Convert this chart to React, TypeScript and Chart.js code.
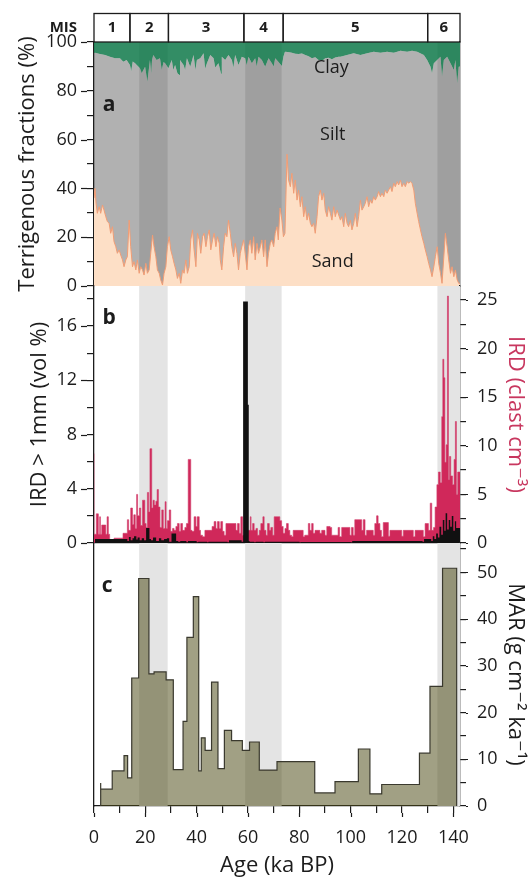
import { useEffect, useRef } from 'react';
import { Chart, registerables } from 'chart.js';

Chart.register(...registerables);

// ---------------- layout constants ----------------
const W = 531;
const H = 879;
const LEFT = 94;          // left edge of plot areas
const RIGHT = 460;        // right edge of plot areas
const A_TOP = 42;
const A_BOT = 286;
const B_BOT = 543;
const C_BOT = 806;
const FONT = "'Open Sans', 'DejaVu Sans', sans-serif";
const INK = '#1c1c1c';

// ---------------- data ----------------
const X_MAX = 142.6;

const misLabels = ['1', '2', '3', '4', '5', '6'];
const misBounds = [0, 14, 29, 58.4, 73.7, 130, 142.6];

const bandStarts = [17.6, 58.9, 133.8];
const bandEnds = [28.7, 73.1, 142.6];

// Panel a: sand (%) upper boundary [age, %]
const sandPct = [
  [0, 36], [0.4, 40], [0.8, 33.9], [1.3, 29.8], [2.0, 32.5], [2.6, 29.8], [3.3, 33.2], [3.9, 31.1], [4.6, 28.4],
  [5.2, 26.4], [5.9, 25.7], [6.5, 21.6], [7.2, 24.3], [7.8, 18.2], [8.5, 16.1], [9.1, 13.4], [9.8, 14.8],
  [10.4, 12.7], [11.1, 10.7], [11.7, 7.9], [12.4, 10.7], [13.0, 12.0], [13.7, 27.0], [14.3, 16.1], [15.0, 7.9],
  [15.6, 10.0], [16.3, 6.6], [16.9, 10.7], [17.6, 5.2], [18.2, 7.9], [18.9, 6.6], [19.5, 4.5], [20.2, 9.3],
  [20.8, 5.2], [21.5, 6.6], [22.1, 13.4], [22.8, 20.9], [23.4, 16.1], [24.1, 12.0], [24.7, 6.6], [25.4, 5.2],
  [26.0, 2.5], [26.7, 0.4], [27.3, 5.2], [28.0, 7.9], [28.6, 16.1], [29.3, 20.2], [29.9, 14.8], [30.6, 12.0],
  [31.2, 9.3], [31.9, 6.6], [32.5, 3.1], [33.2, 5.2], [33.8, 1.1], [34.5, 6.6], [35.1, 5.2], [35.8, 10.7],
  [36.4, 5.2], [37.1, 7.9], [37.7, 18.9], [38.4, 23.0], [39.0, 14.8], [39.7, 7.9], [40.3, 21.6], [41.0, 18.9],
  [41.6, 13.4], [42.3, 20.2], [42.9, 21.6], [43.6, 16.1], [44.2, 20.2], [44.9, 23.0], [45.5, 14.8], [46.2, 18.9],
  [46.8, 21.6], [47.5, 16.1], [48.1, 20.2], [48.8, 17.5],
  [49.2, 10.7], [49.8, 6.6], [50.5, 16.1], [51.1, 21.6], [51.8, 20.2], [52.4, 27], [53.1, 21.6], [53.7, 16.1],
  [54.4, 12], [55.0, 17.5], [55.7, 13.4], [56.3, 6.6], [57.0, 13.4], [57.6, 16.1], [58.3, 18.9], [58.9, 13.4],
  [59.6, 6.6], [60.2, 16.1], [60.9, 18.9], [61.5, 13.4], [62.2, 20.2], [62.8, 10.7], [63.5, 17.5], [64.1, 13.4],
  [64.8, 16.1], [65.4, 18.9], [66.1, 12], [66.7, 18.9], [67.4, 7.9], [68.0, 13.4], [68.7, 17.5], [69.3, 18.9],
  [70.0, 16.1], [70.6, 21.6], [71.3, 24.3], [71.8, 18.9], [72.5, 32], [73.2, 27], [73.8, 20.2], [74.4, 21.6],
  [75.2, 54], [75.8, 43.4], [76.5, 40.7], [77.1, 46.2], [77.8, 38], [78.4, 43.4], [79.1, 35.2], [79.7, 39.3],
  [80.4, 32.5], [81.0, 36.6], [81.7, 28.4], [82.3, 32.5], [83.0, 27], [83.6, 29.8], [84.3, 25.7], [84.9, 24.3],
  [85.6, 25.7], [86.2, 21.6], [86.9, 28.4], [87.5, 36.6], [88.2, 39.3], [88.8, 35.2], [89.5, 38], [90.1, 31.1],
  [90.8, 28.4], [91.4, 32.5], [92.1, 29.8], [92.7, 27], [93.4, 32.5], [94.0, 28.4], [94.7, 31.1],
  [96.0, 27], [96.6, 28.4], [97.3, 24.3], [97.9, 29.8], [98.6, 25.7], [99.2, 24.3], [99.9, 27], [100.5, 23],
  [101.2, 25.7], [101.8, 29.8], [102.5, 24.3], [103.1, 28.4], [103.8, 35.2], [104.4, 31.1], [105.1, 32.5],
  [105.7, 33.9], [106.4, 36.6], [107.0, 32.5], [107.7, 35.2], [108.3, 33.9], [109.0, 36.6], [109.6, 35.2],
  [110.3, 36.6], [110.9, 38.7], [111.6, 36.6], [112.2, 38], [112.9, 36.6], [113.5, 39.3], [114.2, 38],
  [114.8, 39.3], [115.5, 40.7], [116.1, 38.7], [116.8, 42.1], [117.4, 40.7], [118.1, 42.8], [118.7, 41.4],
  [119.4, 43.4], [120.0, 40.7], [120.7, 42.1], [121.3, 40.7], [122.0, 42.8], [122.6, 42.1], [123.3, 42.8],
  [123.9, 42.1], [124.6, 39.3], [125.2, 33.9], [125.9, 29.8], [126.5, 26.4], [127.2, 23], [127.8, 20.2],
  [128.5, 17.5], [129.1, 14.8], [129.8, 12], [130.4, 9.3], [131.1, 6.6], [131.7, 3.8], [132.4, 7.9], [133.0, 12],
  [133.7, 16.1], [134.3, 9.3], [135.0, 5.2], [135.6, 1.1], [136.3, 12], [136.9, 21.6], [137.6, 16.1],
  [138.2, 10.7], [138.9, 5.2], [139.5, 7.9], [140.2, 3.8], [140.8, 6.6], [141.5, 2.5], [142.1, 1.1], [142.6, 1.0],
];

// Panel a: top of silt (sand + silt, %) [age, %]
const siltTopPct = [
  [0, 95.5], [0.4, 95.6], [2.3, 95.1], [4.3, 94.7], [6.2, 94], [8.2, 93.3], [10.1, 93.3], [11.4, 91.9],
  [12.7, 92.6], [14.0, 90.6], [14.5, 88], [15.1, 92], [16.0, 91.3], [17.9, 89.2], [18.6, 87.2], [19.9, 89.9],
  [20.8, 83.7], [21.8, 92.6], [22.3, 87], [22.6, 92.5], [23.1, 94.7], [24.4, 92.6], [25.7, 93.3], [26.4, 88.5],
  [27.1, 91.8], [27.7, 91.3], [29.0, 89.2], [30.3, 92.6], [30.9, 88.5], [31.6, 90.6], [32.5, 87.2], [33.3, 86.5],
  [33.5, 92.6], [34.9, 90.6], [35.5, 88.5], [36.2, 93.3], [37.5, 89.9], [38.8, 94.7], [39.5, 88.5], [40.1, 92.6],
  [41.4, 93.3], [42.7, 95.4], [43.3, 89], [44.0, 91.3], [45.3, 94.7], [46.6, 93.3], [47.2, 89.5], [48.5, 91.3],
  [49.5, 87], [49.8, 94], [51.1, 92.6], [52.4, 94.7], [53.7, 92.6], [54.3, 89.5], [55.0, 94.7], [56.3, 90.6],
  [57.6, 94], [58.9, 93.3], [59.5, 90.5], [60.2, 94], [61.5, 91.3], [62.8, 93.3], [63.4, 90], [64.1, 94],
  [65.4, 92.6], [66.7, 89.9], [68.0, 93.3], [69.3, 91.3], [70.0, 90], [70.6, 93.3],
  [71.8, 91.9], [73.2, 90.2], [73.8, 94], [74.4, 96], [75.5, 95.9], [77.1, 95.6], [78.4, 95.2], [79.7, 95.1],
  [81.0, 95.3], [82.3, 94.7], [83.6, 94.2], [84.9, 93.3], [86.2, 93.8], [87.5, 92.6], [88.8, 92.2], [90.1, 93.3],
  [91.4, 93.5], [92.7, 92.9], [94.0, 93.6], [95.3, 94], [96.0, 94], [98.6, 94.7], [101.2, 95.4], [103.8, 94.7],
  [106.4, 95.4], [109.0, 96], [111.6, 95.6], [114.2, 96], [116.8, 95.6], [119.4, 96.4], [122.0, 96],
  [123.9, 96.4], [125.9, 96], [128.5, 94.7], [129.8, 92.6], [131.1, 89.9], [131.7, 87.2], [132.4, 91.3],
  [133.7, 92.6], [135.0, 94], [135.6, 85.8], [136.3, 92.6], [137.6, 94], [138.9, 91.3], [140.2, 88.5],
  [140.8, 92.6], [141.5, 83], [142.1, 89.9], [142.6, 90],
];

// Panel b: IRD (clast cm-3), step start [age, value]
const irdClast = [
  [0, 9.2], [0.9, 0.9], [1.7, 3.0], [2.2, 0.9], [2.5, 2.7], [3.0, 0.9], [4.6, 1.85], [5.1, 0.9], [5.6, 2.7],
  [6.1, 0.9], [7.8, 0], [11.3, 0.5], [13.0, 1.0], [13.5, 2.4], [14.3, 1.3], [15.0, 3.6], [15.5, 1.9], [16.1, 2.9],
  [16.6, 1.5], [17.0, 5.0], [17.7, 2.8], [18.2, 3.6], [18.9, 1.8], [19.8, 4.4], [20.3, 2.0], [20.8, 1.6],
  [21.3, 5.2], [21.8, 3.2], [22.5, 9.7], [23.0, 3.6], [23.5, 4.4], [24.1, 3.9], [24.6, 4.3], [25.1, 5.5],
  [25.7, 3.7], [26.4, 1.6], [27.0, 3.4], [27.7, 1.5], [28.1, 4.25], [28.6, 1.5], [29.3, 2.3], [29.9, 3.4],
  [30.6, 1.2], [31.2, 1.5], [31.9, 1.3], [32.5, 1.7], [33.2, 2.0], [33.8, 1.2], [34.5, 2.0], [35.4, 1.3],
  [36.0, 1.6], [36.7, 2.0], [37.7, 8.6], [38.2, 1.3], [39.0, 1.2], [39.7, 2.7], [40.2, 1.7], [41.0, 2.7],
  [41.5, 1.3], [42.3, 0.8], [43.2, 0.65], [46.0, 1.3], [46.8, 1.7], [47.5, 2.2], [48.1, 1.5], [48.8, 2.2],
  [49.4, 1.5], [50.1, 2.2], [50.7, 1.2], [51.4, 0.8], [55.3, 2.0], [55.9, 1.3], [56.6, 2.0], [57.2, 1.0],
  [57.9, 2.7], [58.9, 0.8], [60.9, 1.3], [61.2, 2.7], [61.8, 1.3], [62.4, 2.0], [63.1, 1.3], [63.7, 1.5],
  [64.4, 0.8], [65.0, 1.3], [65.8, 2.0], [66.3, 2.7], [67.0, 1.3], [67.6, 0.8], [68.3, 2.0], [68.9, 1.3],
  [69.6, 1.6], [70.2, 0.8], [72.4, 2.7], [73.1, 2.3], [73.7, 1.7], [74.4, 1.0], [75.0, 1.5], [75.7, 2.0],
  [76.3, 1.3], [77.0, 0.8], [77.6, 0.65], [81.5, 1.3], [82.1, 0.65], [83.5, 0.8], [84.1, 2.0], [84.8, 1.3],
  [85.4, 2.0], [86.1, 1.0], [88.0, 1.3], [88.7, 1.0], [90.0, 1.3], [90.7, 0.8], [92.0, 1.7], [92.6, 1.6],
  [95.1, 0.8], [95.7, 1.6], [96.5, 0.65], [99.7, 1.6], [100.3, 0.8], [101.0, 1.6], [101.6, 0.8], [104.3, 2.4],
  [104.9, 1.3], [105.6, 2.4], [106.2, 0.8], [108.8, 1.3], [109.4, 0.8], [110.1, 2.0], [110.7, 2.8], [111.4, 2.0],
  [112.0, 1.3], [112.7, 0.65], [114.7, 2.1], [115.3, 0.7], [119.9, 1.3], [120.5, 0.7], [124.4, 1.3],
  [125.1, 0.65], [128.3, 1.3], [129.0, 0.65], [130.3, 2.0], [131.0, 1.3], [131.6, 4.1], [132.3, 1.3],
  [132.9, 1.6], [133.6, 3.7], [134.2, 6.0], [134.9, 7.3], [135.5, 6.2], [135.9, 13.0], [136.3, 18.9],
  [136.7, 17.0], [137.2, 8.3], [137.7, 10.1], [138.1, 25.4], [138.5, 6.5], [139.0, 8.9], [139.7, 6.9],
  [140.3, 6.0], [140.8, 8.6], [141.2, 12.5], [141.7, 5.0], [142.2, 7.3], [142.6, 7.3],
];

// Panel b: IRD > 1 mm (vol %), step start [age, value]
const irdVol = [
  [0, 10.8], [0.4, 0], [13.0, 0.3], [13.6, 0.15], [14.3, 0.45], [15.0, 0.2], [15.6, 0.35], [16.5, 0.5],
  [17.0, 0.25], [17.8, 0.4], [18.6, 0.2], [19.5, 0.35], [20.3, 0.2], [21.6, 1.1], [22.2, 0.3], [23.0, 0.2],
  [24.2, 0.4], [25.3, 0.15], [26.2, 0.35], [27.3, 0.2], [28.4, 0.3], [29.3, 0.35], [30.2, 0.1], [32.0, 0.7],
  [32.8, 0.15], [33.6, 0.1], [36.0, 0.15], [36.6, 0.05], [40.0, 0.15], [40.6, 0.05], [44.0, 0.1], [44.6, 0.05],
  [52.0, 0.1], [52.6, 0.05], [57.5, 0.2], [58.1, 0.1], [59.95, 17.8], [60.3, 10.2], [60.6, 0.15], [62.4, 0.1],
  [63.0, 0.05], [66.0, 0.1], [66.6, 0.05], [80.0, 0.1], [80.6, 0.05], [100.0, 0.08], [100.6, 0.05],
  [128.0, 0.15], [128.6, 0.1], [131.4, 0.3], [132.0, 0.15], [132.6, 0.5], [133.3, 0.3], [134.0, 0.7],
  [134.6, 0.4], [135.3, 1.2], [135.9, 0.6], [136.5, 1.7], [137.0, 0.9], [137.6, 2.2], [138.2, 1.0],
  [138.8, 1.7], [139.4, 1.2], [140.0, 2.0], [140.6, 0.9], [141.1, 1.6], [141.6, 1.1], [142.6, 1.1],
];

// Panel c: MAR (g cm-2 ka-1), step starts and values
const marStarts = [2.6, 7.1, 11.7, 13.1, 14.7, 17.4, 21.4, 23.4, 28.1, 30.9, 34.7, 36.2, 38.7, 40.8, 41.8, 43.3,
  45.8, 48.3, 50.8, 53.6, 57.8, 60.6, 64.4, 71.3, 86.0, 93.9, 103.0, 107.5, 112.1, 126.8, 130.9, 135.8, 139.4];
const marValues = [4.9, 3.6, 7.5, 10.8, 6.0, 27.4, 48.7, 28.3, 28.7, 27.0, 7.8, 18.1, 36.1, 44.8, 7.5, 14.6,
  11.9, 26.5, 8.0, 16.2, 14.0, 11.9, 13.7, 7.7, 9.5, 2.8, 5.2, 12.2, 2.6, 4.6, 11.3, 25.6, 50.9];
const marEnd = 141.3;

// in-panel annotation labels: [text, age, value]
const panelALabels = [['Clay', 92.5, 89.5], ['Silt', 93, 62], ['Sand', 93, 10]];

// ---------------- helpers ----------------
const pts = (arr: number[][]) => arr.map(([x, y]) => ({ x, y }));
const marPts = () => {
  const out = [{ x: marStarts[0], y: 0 }];
  marStarts.forEach((s, i) => out.push({ x: s, y: marValues[i] }));
  out.push({ x: marEnd, y: marValues[marValues.length - 1] });
  out.push({ x: marEnd, y: 0 });
  return out;
};

const isMult = (v: number, n: number) => Math.abs(v / n - Math.round(v / n)) < 1e-6;
const every = (n: number) => (v: any) => (isMult(Number(v), n) ? String(Math.round(Number(v))) : '');

const tickFont = { family: FONT, size: 18 };
const titleFont = { family: FONT, size: 22 };

const baseOptions = (padTop: number, padBottom: number) => ({
  responsive: false,
  maintainAspectRatio: false,
  animation: false,
  devicePixelRatio: 1,
  events: [],
  layout: { padding: { left: 0, right: 0, top: padTop, bottom: padBottom }, autoPadding: false },
  plugins: { legend: { display: false }, tooltip: { enabled: false } },
  elements: { point: { radius: 0 }, line: { tension: 0 } },
});

const frameAxis = (position: string, min: number, max: number, width: number) => ({
  type: 'linear', position, min, max, z: 1,
  afterFit: (s: any) => { s.width = width; },
  border: { display: true, color: INK, width: 1.3 },
  grid: { display: false, drawTicks: false },
  ticks: { display: false },
});

const valueAxis = (o: any) => ({
  type: 'linear', position: o.position, min: 0, max: o.max, z: 1,
  afterFit: (s: any) => { s.width = o.width; },
  border: { display: true, color: INK, width: 1.3 },
  grid: { display: true, drawOnChartArea: false, drawTicks: true, tickLength: o.tickLength, color: INK, lineWidth: 1.2 },
  ticks: { stepSize: o.step, includeBounds: false, autoSkip: false, padding: o.padding, color: INK, font: tickFont, callback: every(o.labelStep) },
  title: { display: true, text: o.title, color: o.titleColor || INK, font: titleFont, padding: { top: o.titlePad, bottom: 0 } },
});

// lengthen the labelled (major) tick marks
const majorTicksPlugin = (specs: { id: string; every: number; extra: number }[]) => ({
  id: 'majorTicks',
  afterDraw(chart: any) {
    const { ctx } = chart;
    ctx.save();
    ctx.strokeStyle = INK;
    ctx.lineWidth = 1.2;
    specs.forEach(({ id, every: n, extra }) => {
      const s = chart.scales[id];
      const tl = s.options.grid.tickLength;
      s.ticks.forEach((t: any) => {
        if (!isMult(t.value, n)) return;
        const p = Math.round(s.getPixelForValue(t.value)) + 0.5;
        ctx.beginPath();
        if (s.position === 'left') { ctx.moveTo(s.right - tl, p); ctx.lineTo(s.right - tl - extra, p); }
        else if (s.position === 'right') { ctx.moveTo(s.left + tl, p); ctx.lineTo(s.left + tl + extra, p); }
        else { ctx.moveTo(p, s.top + tl); ctx.lineTo(p, s.top + tl + extra); }
        ctx.stroke();
      });
    });
    ctx.restore();
  },
});

const bandsPlugin = (color: string) => ({
  id: 'bands',
  beforeDatasetsDraw(chart: any) {
    const { ctx, chartArea, scales } = chart;
    const x = scales.x;
    ctx.save();
    ctx.fillStyle = color;
    bandStarts.forEach((s, i) => {
      const x0 = x.getPixelForValue(s);
      const x1 = x.getPixelForValue(bandEnds[i]);
      ctx.fillRect(x0, chartArea.top, x1 - x0, chartArea.bottom - chartArea.top);
    });
    ctx.restore();
  },
});

const letterPlugin = (letter: string, age: number, value: number, axisId: string) => ({
  id: 'letter' + letter,
  afterDraw(chart: any) {
    const { ctx, scales } = chart;
    ctx.save();
    ctx.fillStyle = INK;
    ctx.font = `bold 21px ${FONT}`;
    ctx.textAlign = 'center';
    ctx.textBaseline = 'middle';
    ctx.fillText(letter, scales.x.getPixelForValue(age), scales[axisId].getPixelForValue(value));
    ctx.restore();
  },
});

const panelAText = {
  id: 'panelAText',
  afterDraw(chart: any) {
    const { ctx, scales: { x, y } } = chart;
    ctx.save();
    ctx.fillStyle = INK;
    ctx.textAlign = 'center';
    ctx.textBaseline = 'middle';
    ctx.font = `18px ${FONT}`;
    panelALabels.forEach(([t, a, v]: any) => ctx.fillText(t, x.getPixelForValue(a), y.getPixelForValue(v)));
    // MIS header boxes
    ctx.strokeStyle = INK;
    ctx.lineWidth = 1.3;
    ctx.font = `bold 15px ${FONT}`;
    const top = 13.5;
    const bot = chart.chartArea.top;
    misLabels.forEach((lab, i) => {
      const x0 = x.getPixelForValue(misBounds[i]);
      const x1 = x.getPixelForValue(misBounds[i + 1]);
      ctx.strokeRect(x0, top, x1 - x0, bot - top);
      ctx.fillText(lab, (x0 + x1) / 2, (top + bot) / 2);
    });
    ctx.textAlign = 'right';
    ctx.fillText('MIS', LEFT - 17, (top + bot) / 2);
    ctx.restore();
  },
};

// ---------------- chart configs ----------------
const configA = (): any => ({
  type: 'line',
  data: {
    datasets: [
      { data: pts(sandPct), borderColor: '#F19C74', borderWidth: 1, backgroundColor: '#FDDFC6', fill: 'origin', yAxisID: 'y' },
      { data: pts(siltTopPct), borderWidth: 0, borderColor: 'rgba(0,0,0,0)', backgroundColor: 'rgba(60,60,60,0.4)', fill: 'origin', yAxisID: 'y' },
      { data: pts(siltTopPct), borderWidth: 0, borderColor: 'rgba(0,0,0,0)', backgroundColor: 'rgba(0,112,62,0.8)', fill: 'end', yAxisID: 'y' },
    ],
  },
  options: {
    ...baseOptions(A_TOP, H - A_BOT),
    scales: {
      x: { type: 'linear', min: 0, max: X_MAX, display: false },
      y: valueAxis({ position: 'left', max: 100, width: LEFT, tickLength: 7, step: 10, labelStep: 20, padding: 10,
        title: 'Terrigenous fractions (%)', titlePad: 15 }),
      yR: frameAxis('right', 0, 100, W - RIGHT),
    },
  },
  plugins: [bandsPlugin('#E2E2E2'), panelAText, letterPlugin('a', 5.9, 74, 'y'),
    majorTicksPlugin([{ id: 'y', every: 20, extra: 6 }])],
});

const configB = (): any => ({
  type: 'line',
  data: {
    datasets: [
      { data: pts(irdVol), stepped: 'after', borderWidth: 0, borderColor: 'rgba(0,0,0,0)', backgroundColor: '#111111', fill: 'origin', yAxisID: 'y' },
      { data: pts(irdClast), stepped: 'after', borderWidth: 0.6, borderColor: '#D2406C', backgroundColor: '#D0285A', fill: 'origin', yAxisID: 'yR' },
    ],
  },
  options: {
    ...baseOptions(A_BOT, H - B_BOT),
    scales: {
      x: {
        type: 'linear', position: 'bottom', min: 0, max: X_MAX, z: 1,
        afterFit: (s: any) => { s.height = 0; },
        border: { display: true, color: INK, width: 1.3 },
        grid: { display: false, drawTicks: false },
        ticks: { display: false },
      },
      y: valueAxis({ position: 'left', max: 18.95, width: LEFT, tickLength: 7, step: 2, labelStep: 4, padding: 10,
        title: 'IRD > 1mm (vol %)', titlePad: 27 }),
      yR: valueAxis({ position: 'right', max: 26.44, width: W - RIGHT, tickLength: 6, step: 2.5, labelStep: 5, padding: 11,
        title: 'IRD (clast cm⁻³)', titleColor: '#C8375F', titlePad: 3 }),
    },
  },
  plugins: [bandsPlugin('#E4E4E4'), letterPlugin('b', 5.9, 16.6, 'y'),
    majorTicksPlugin([{ id: 'y', every: 4, extra: 6 }, { id: 'yR', every: 5, extra: 2 }])],
});

const configC = (): any => ({
  type: 'line',
  data: {
    datasets: [
      { data: marPts(), stepped: 'after', borderWidth: 1.2, borderColor: '#3A392E', backgroundColor: 'rgba(75,72,20,0.52)', fill: 'origin', yAxisID: 'yR' },
    ],
  },
  options: {
    ...baseOptions(B_BOT, 0),
    scales: {
      x: {
        type: 'linear', position: 'bottom', min: 0, max: X_MAX, z: 1,
        afterFit: (s: any) => { s.height = H - C_BOT; },
        border: { display: true, color: INK, width: 1.3 },
        grid: { display: true, drawOnChartArea: false, drawTicks: true, tickLength: 7, color: INK, lineWidth: 1.2 },
        ticks: { stepSize: 10, includeBounds: false, autoSkip: false, maxRotation: 0, minRotation: 0, padding: 14,
          color: INK, font: tickFont, callback: every(20) },
        title: { display: true, text: 'Age (ka BP)', color: INK, font: titleFont, padding: { top: 0, bottom: 0 } },
      },
      yL: frameAxis('left', 0, 56.3, LEFT),
      yR: valueAxis({ position: 'right', max: 56.3, width: W - RIGHT, tickLength: 6, step: 5, labelStep: 10, padding: 11,
        title: 'MAR (g cm⁻² ka⁻¹)', titlePad: 3 }),
    },
  },
  plugins: [bandsPlugin('#E4E4E4'), letterPlugin('c', 5.1, 47, 'yR'),
    majorTicksPlugin([{ id: 'x', every: 20, extra: 4 }, { id: 'yR', every: 10, extra: 2 }])],
});

export default function App() {
  const refA = useRef<HTMLCanvasElement>(null);
  const refB = useRef<HTMLCanvasElement>(null);
  const refC = useRef<HTMLCanvasElement>(null);

  useEffect(() => {
    document.body.style.margin = '0';
    Chart.defaults.font.family = FONT;
    const charts = [
      new Chart(refA.current as HTMLCanvasElement, configA()),
      new Chart(refB.current as HTMLCanvasElement, configB()),
      new Chart(refC.current as HTMLCanvasElement, configC()),
    ];
    return () => charts.forEach((c) => c.destroy());
  }, []);

  return (
    <div style={{ position: 'relative', width: W, height: H, background: '#ffffff' }}>
      {[refA, refB, refC].map((r, i) => (
        <canvas key={i} ref={r} width={W} height={H} style={{ position: 'absolute', left: 0, top: 0 }} />
      ))}
    </div>
  );
}
